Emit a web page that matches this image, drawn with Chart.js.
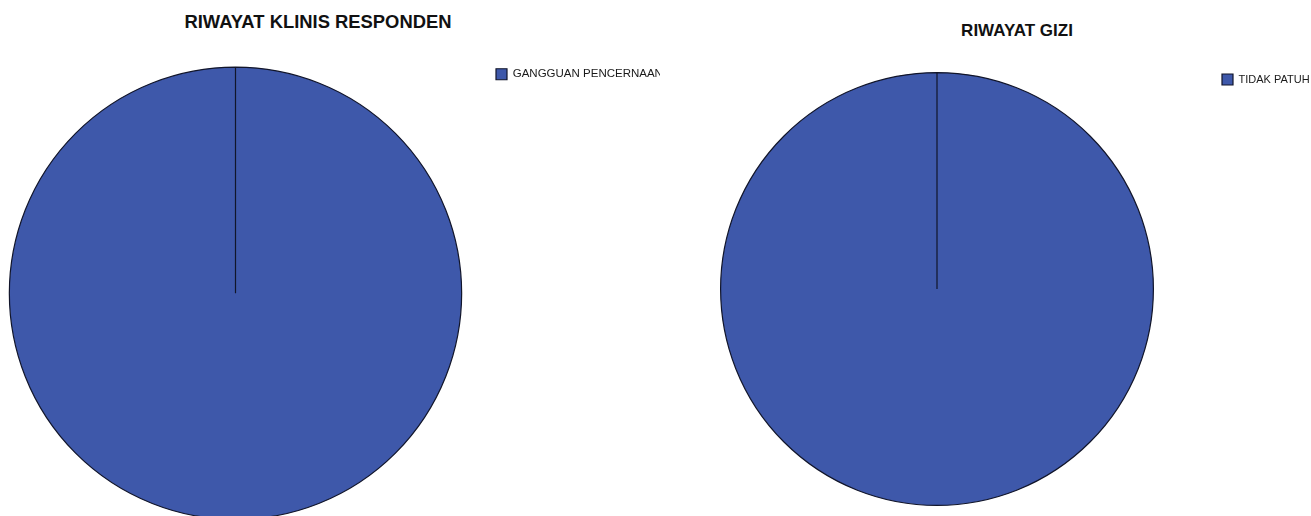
<!DOCTYPE html>
<html>
<head>
<meta charset="utf-8">
<title>Riwayat Responden</title>
<script src="https://cdn.jsdelivr.net/npm/chart.js@4/dist/chart.umd.min.js"></script>
<style>
  html, body { margin: 0; padding: 0; background: #fff; overflow: hidden; width: 1311px; height: 516px; }
  body { position: relative; font-family: "Liberation Sans", Arial, sans-serif; }
  .title { position: absolute; font-weight: bold; text-align: center; color: #111; white-space: nowrap; }
  canvas { position: absolute; top: 0; }
</style>
</head>
<body>
<div class="title" id="titleKlinis" style="left:118px; width:400px; top:13.3px; font-size:18.4px; line-height:18.4px;"></div>
<div class="title" id="titleGizi" style="left:917px; width:200px; top:21.5px; font-size:17px; line-height:17px;"></div>
<canvas id="klinis" width="683" height="520" style="left:-23px;"></canvas>
<canvas id="gizi" width="657" height="506" style="left:654px;"></canvas>
<script>
// chart titles
const chartTitles = ['RIWAYAT KLINIS RESPONDEN', 'RIWAYAT GIZI'];

// riwayat klinis: one category only
const klinisLabels = ['GANGGUAN PENCERNAAN'];
const klinisValues = [100];

// riwayat gizi: one category only
const giziLabels = ['TIDAK PATUH'];
const giziValues = [100];

const sliceColor = '#3e58aa';
const edgeColor = '#11152a';
const fontFamily = '"Liberation Sans", Arial, sans-serif';

document.getElementById('titleKlinis').textContent = chartTitles[0];
document.getElementById('titleGizi').textContent = chartTitles[1];

function makePie(id, labels, values, opts) {
    return new Chart(document.getElementById(id), {
        type: 'pie',
        data: {
            labels: labels,
            datasets: [{
                data: values,
                backgroundColor: sliceColor,
                borderColor: edgeColor,
                borderWidth: 1.2
            }]
        },
        options: {
            responsive: false,
            animation: false,
            events: [],
            layout: { padding: { top: opts.top, left: 0, right: 0, bottom: 0 } },
            plugins: {
                title: { display: false },
                tooltip: { enabled: false },
                legend: {
                    position: 'right',
                    align: 'start',
                    maxWidth: opts.legendWidth,
                    labels: {
                        boxWidth: 11,
                        boxHeight: 11,
                        padding: 2,
                        color: '#1a1a1a',
                        font: { family: fontFamily, size: opts.fontSize }
                    }
                }
            }
        }
    });
}

makePie('klinis', klinisLabels, klinisValues, { top: 66.5, legendWidth: 166, fontSize: 11.5 });
makePie('gizi', giziLabels, giziValues, { top: 72, legendWidth: 91, fontSize: 11 });
</script>
</body>
</html>
